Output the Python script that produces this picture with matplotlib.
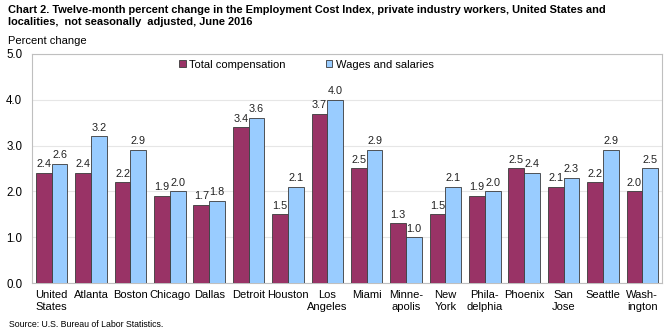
import matplotlib
matplotlib.use("Agg")
import matplotlib.pyplot as plt
import numpy as np

plt.rcParams['font.family'] = ['Liberation Sans', 'DejaVu Sans']

categories = ["United\nStates", "Atlanta", "Boston", "Chicago", "Dallas", "Detroit",
              "Houston", "Los\nAngeles", "Miami", "Minne-\napolis", "New\nYork",
              "Phila-\ndelphia", "Phoenix", "San\nJose", "Seattle", "Wash-\nington"]
total_comp = [2.4, 2.4, 2.2, 1.9, 1.7, 3.4, 1.5, 3.7, 2.5, 1.3, 1.5, 1.9, 2.5, 2.1, 2.2, 2.0]
wages = [2.6, 3.2, 2.9, 2.0, 1.8, 3.6, 2.1, 4.0, 2.9, 1.0, 2.1, 2.0, 2.4, 2.3, 2.9, 2.5]
yticks = [0.0, 1.0, 2.0, 3.0, 4.0, 5.0]

fig = plt.figure(figsize=(6.66, 3.31), dpi=100)
ax = fig.add_axes([0.048, 0.145, 0.946, 0.692])

x = np.arange(len(categories))
w = 0.4
c1, c2 = "#993366", "#99CCFF"
b1 = ax.bar(x - w/2, total_comp, w, color=c1, edgecolor="#3a3a3a", linewidth=0.6,
            label="Total compensation", zorder=3)
b2 = ax.bar(x + w/2, wages, w, color=c2, edgecolor="#3a3a3a", linewidth=0.6,
            label="Wages and salaries", zorder=3)
for bars, vals in ((b1, total_comp), (b2, wages)):
    for r, v in zip(bars, vals):
        ax.text(r.get_x() + r.get_width()/2, v + 0.08, f"{v:.1f}", ha="center",
                va="bottom", fontsize=7.8, color="#222222")

ax.set_xlim(-0.5, len(categories) - 0.5)
ax.set_ylim(0, 5)
ax.set_yticks(yticks)
ax.set_yticklabels([f"{t:.1f}" for t in yticks], fontsize=8.3)
ax.set_xticks(x)
ax.set_xticklabels(categories, fontsize=8, linespacing=1.3)
ax.tick_params(axis='both', length=0)
ax.tick_params(axis='x', pad=5)
ax.tick_params(axis='y', pad=7)
ax.yaxis.grid(True, color="#e6e6e6", linewidth=0.8, zorder=0)
for s in ax.spines.values():
    s.set_color("#bfbfbf")
    s.set_linewidth(0.8)

ax.legend(loc="upper left", bbox_to_anchor=(0.225, 1.0), ncol=2, frameon=False,
          fontsize=8, handlelength=0.6, handleheight=0.6, handletextpad=0.3,
          columnspacing=3.6, borderaxespad=0.1)

fig.text(0.012, 0.985, "Chart 2. Twelve-month percent change in the Employment Cost Index, private industry workers, United States and\nlocalities,  not seasonally  adjusted, June 2016",
         fontsize=7.9, fontweight="bold", va="top", ha="left", linespacing=1.3)
fig.text(0.012, 0.86, "Percent change", fontsize=8, va="bottom", ha="left")
fig.text(0.014, 0.005, "Source: U.S. Bureau of Labor Statistics.", fontsize=6.3, va="bottom", ha="left")

fig.savefig("out.png", dpi=100)
